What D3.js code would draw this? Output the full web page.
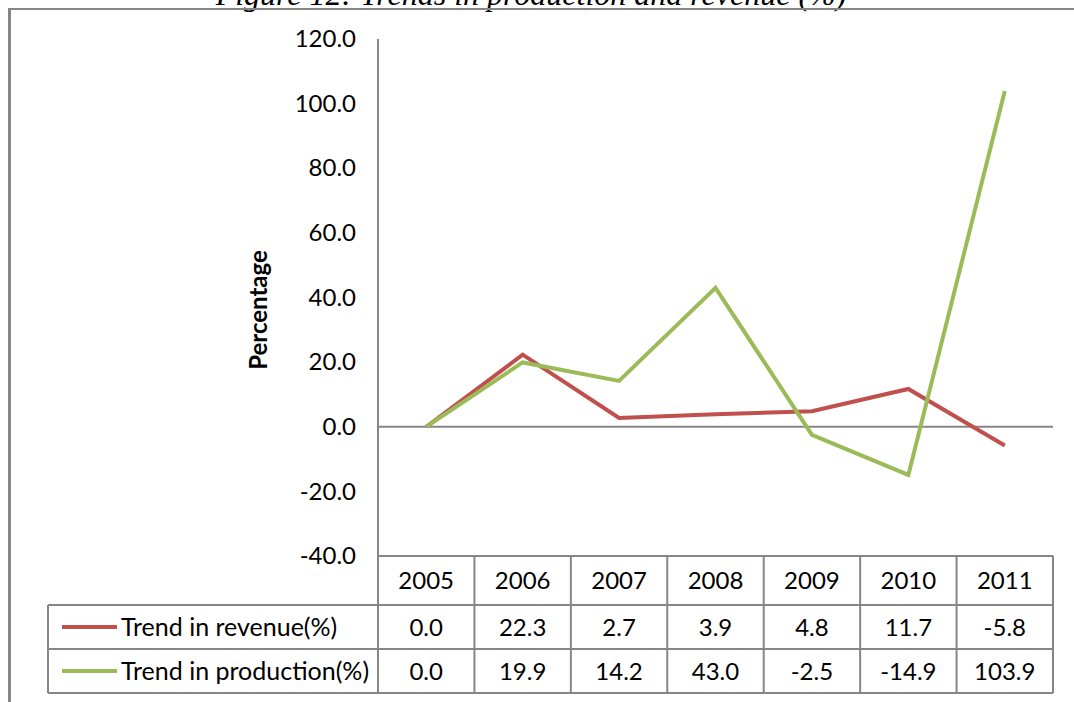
<!DOCTYPE html>
<html>
<head>
<meta charset="utf-8">
<script src="https://cdn.jsdelivr.net/npm/d3@7"></script>
<style>
  body { margin: 0; background: #fff; }
  svg { display: block; }
  text { font-family: Lato, "Open Sans", sans-serif; fill: #000; }
</style>
</head>
<body>
<div id="chart"></div>
<script>
// data
var years = ['2005', '2006', '2007', '2008', '2009', '2010', '2011'];
var revenue = [0.0, 22.3, 2.7, 3.9, 4.8, 11.7, -5.8];
var production = [0.0, 19.9, 14.2, 43.0, -2.5, -14.9, 103.9];
var seriesNames = ['Trend in revenue(%)', 'Trend in production(%)'];
var seriesColors = ['#c0504d', '#9bbb59'];
var yTicks = [-40, -20, 0, 20, 40, 60, 80, 100, 120];

var width = 1074, height = 702;
var grid = '#868686';

// plain hyphen for negatives, like the original
var fmt = d3.formatLocale({decimal: '.', thousands: ',', grouping: [3], currency: ['', ''], minus: '-'})
  .format('.1f');

var svg = d3.select('#chart').append('svg')
  .attr('width', width)
  .attr('height', height);

// title, cut off by the top edge as in the source
svg.append('text')
  .attr('x', 531)
  .attr('y', 5)
  .attr('text-anchor', 'middle')
  .style('font-family', '"Liberation Serif", "Times New Roman", serif')
  .style('font-style', 'italic')
  .style('font-size', '32px')
  .text('Figure 12: Trends in production and revenue (%)');

// outer frame of the chart
svg.append('line').attr('x1', 8).attr('x2', width + 5).attr('y1', 9).attr('y2', 9)
  .attr('stroke', grid).attr('stroke-width', 2);
svg.append('line').attr('x1', 9.5).attr('x2', 9.5).attr('y1', 8).attr('y2', height + 5)
  .attr('stroke', grid).attr('stroke-width', 3);

var plot = {left: 378, right: 1053, top: 39, bottom: 556};

var x = d3.scaleBand()
  .domain(years)
  .range([plot.left, plot.right]);

var y = d3.scaleLinear()
  .domain([-40, 120])
  .range([plot.bottom, plot.top]);

// y axis labels (no tick marks)
var yAxis = d3.axisLeft(y)
  .tickValues(yTicks)
  .tickSize(0)
  .tickPadding(22)
  .tickFormat(fmt);

var gy = svg.append('g')
  .attr('transform', 'translate(' + plot.left + ',0)')
  .call(yAxis);
gy.select('.domain').remove();
gy.selectAll('text')
  .style('font-family', 'Lato, sans-serif')
  .style('font-size', '24px')
  .attr('fill', '#000');

svg.append('line')
  .attr('x1', plot.left).attr('x2', plot.left)
  .attr('y1', plot.top).attr('y2', plot.bottom)
  .attr('stroke', grid).attr('stroke-width', 2);

// zero line
svg.append('line')
  .attr('x1', plot.left).attr('x2', plot.right)
  .attr('y1', y(0)).attr('y2', y(0))
  .attr('stroke', grid).attr('stroke-width', 2);

svg.append('text')
  .attr('transform', 'translate(267,310) rotate(-90)')
  .attr('text-anchor', 'middle')
  .style('font-weight', 'bold')
  .style('font-size', '24px')
  .text('Percentage');

// lines
var line = d3.line()
  .x(function (d, i) { return x(years[i]) + x.bandwidth() / 2; })
  .y(function (d) { return y(d); });

[revenue, production].forEach(function (s, i) {
  svg.append('path')
    .datum(s)
    .attr('fill', 'none')
    .attr('stroke', seriesColors[i])
    .attr('stroke-width', 4)
    .attr('stroke-linejoin', 'miter')
    .attr('d', line);
});

// data table under the chart
var rowH = [plot.bottom, 605, 649, 693];
var legendLeft = 48;
var table = svg.append('g').attr('stroke', grid).attr('stroke-width', 2);

table.append('line').attr('x1', plot.left).attr('x2', plot.right)
  .attr('y1', rowH[0]).attr('y2', rowH[0]);
[1, 2, 3].forEach(function (r) {
  table.append('line').attr('x1', legendLeft).attr('x2', plot.right)
    .attr('y1', rowH[r]).attr('y2', rowH[r]);
});
years.forEach(function (yr) {
  table.append('line').attr('x1', x(yr)).attr('x2', x(yr))
    .attr('y1', rowH[0]).attr('y2', rowH[3]);
});
table.append('line').attr('x1', plot.right).attr('x2', plot.right)
  .attr('y1', rowH[0]).attr('y2', rowH[3]);
table.append('line').attr('x1', legendLeft).attr('x2', legendLeft)
  .attr('y1', rowH[1]).attr('y2', rowH[3]);

svg.selectAll('.yr')
  .data(years)
  .enter().append('text')
  .attr('class', 'yr')
  .attr('x', function (d) { return x(d) + x.bandwidth() / 2; })
  .attr('y', (rowH[0] + rowH[1]) / 2)
  .attr('dy', '0.36em')
  .attr('text-anchor', 'middle')
  .style('font-size', '24px')
  .text(function (d) { return d; });

[revenue, production].forEach(function (s, r) {
  var cy = (rowH[r + 1] + rowH[r + 2]) / 2;
  svg.append('line')
    .attr('x1', 62).attr('x2', 117)
    .attr('y1', cy).attr('y2', cy)
    .attr('stroke', seriesColors[r]).attr('stroke-width', 4);
  svg.append('text')
    .attr('x', 121).attr('y', cy).attr('dy', '0.36em')
    .style('font-size', '25px')
    .text(seriesNames[r]);
  svg.selectAll('.v' + r)
    .data(s)
    .enter().append('text')
    .attr('class', 'v' + r)
    .attr('x', function (d, i) { return x(years[i]) + x.bandwidth() / 2; })
    .attr('y', cy).attr('dy', '0.36em')
    .attr('text-anchor', 'middle')
    .style('font-size', '24px')
    .text(function (d) { return fmt(d); });
});
</script>
</body>
</html>
